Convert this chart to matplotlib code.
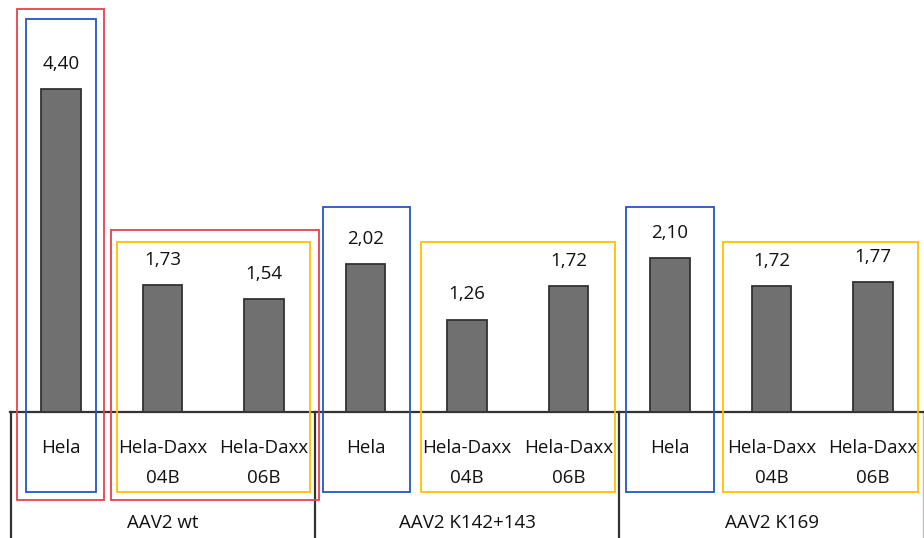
import numpy as np
import matplotlib
matplotlib.use('Agg')
import matplotlib.pyplot as plt
from matplotlib.patches import Rectangle

plt.rcParams['font.family'] = ['Open Sans', 'DejaVu Sans']

# values per cell line, three constructs
groups = ['AAV2 wt', 'AAV2 K142+143', 'AAV2 K169']
cells = ['Hela', 'Hela-Daxx\n04B', 'Hela-Daxx\n06B']
values = [4.40, 1.73, 1.54, 2.02, 1.26, 1.72, 2.10, 1.72, 1.77]

# highlight boxes: (first slot, last slot, left pad, right pad, top, bottom, colour)
red = '#e8404f'
blue = '#2456c4'
gold = '#ffc000'
boxes = [
    (0, 0, 0.43, 0.43, 5.49, -1.20, red),
    (0, 0, 0.345, 0.345, 5.35, -1.09, blue),
    (1, 2, 0.51, 0.54, 2.48, -1.20, red),
    (1, 2, 0.45, 0.45, 2.31, -1.09, gold),
    (3, 3, 0.42, 0.44, 2.79, -1.09, blue),
    (4, 5, 0.45, 0.46, 2.31, -1.09, gold),
    (6, 6, 0.43, 0.43, 2.79, -1.09, blue),
    (7, 8, 0.48, 0.44, 2.31, -1.09, gold),
]

fig = plt.figure(figsize=(9.24, 5.38), dpi=100)
ax = fig.add_axes([10/924, 126/538, 914/924, 412/538])

x = np.arange(len(values))
ax.bar(x, values, width=0.39, color='#707070', edgecolor='#333333', linewidth=1.3, zorder=3)

for xi, v in zip(x, values):
    ax.text(xi, v + 0.22, f'{v:.2f}'.replace('.', ','), ha='center', va='bottom',
            fontsize=13.5, color='#111111')

ax.set_xlim(-0.5, len(values) - 0.5)
ax.set_ylim(0, 412 / 73.4)
ax.set_xticks([])
ax.set_yticks([])
for s in ['top', 'left', 'right']:
    ax.spines[s].set_visible(False)
ax.spines['bottom'].set_color('#333333')
ax.spines['bottom'].set_linewidth(1.6)

# category table below the axis
for i, xi in enumerate(x):
    ax.text(xi, -0.37, cells[i % 3], ha='center', va='top', fontsize=13.5,
            linespacing=1.85, color='#111111', clip_on=False)

for g, name in enumerate(groups):
    ax.text(g * 3 + 1, -1.51, name, ha='center', va='center', fontsize=13.5,
            color='#111111', clip_on=False)

for xs in [-0.49, 2.5, 5.5]:
    ax.plot([xs, xs], [0, -1.75], color='#333333', lw=1.6, clip_on=False)
ax.plot([8.49, 8.49], [0, -1.75], color='#bbbbbb', lw=1.0, clip_on=False)

for a, b, pl, pr, top, bot, col in boxes:
    ax.add_patch(Rectangle((a - pl, bot), (b - a) + pl + pr, top - bot, fill=False,
                           edgecolor=col, linewidth=1.3, clip_on=False, zorder=5))

fig.savefig('out.png', dpi=100)
